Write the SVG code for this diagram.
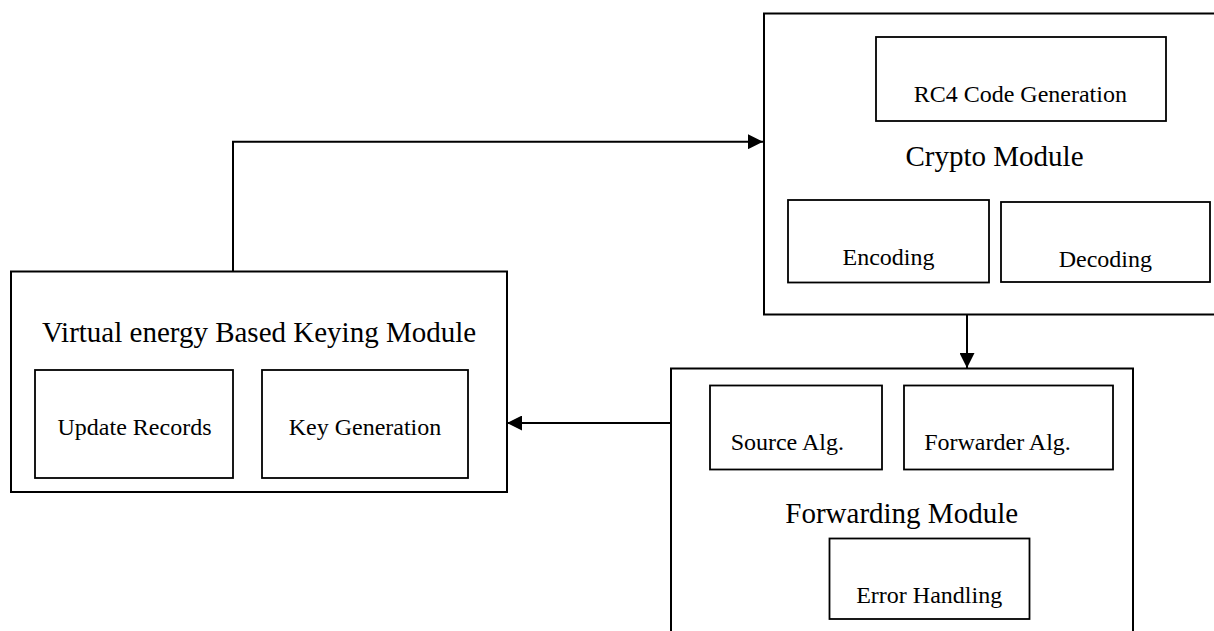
<svg xmlns="http://www.w3.org/2000/svg" width="1214" height="631" viewBox="0 0 1214 631">
<style>
.box{fill:none;stroke:#000;stroke-width:2}
.sub{fill:none;stroke:#000;stroke-width:1.8}
.conn{fill:none;stroke:#000;stroke-width:2}
.t{font-family:"Liberation Serif","Times New Roman",serif;fill:#000;text-anchor:middle}
.big{font-size:29px}
.sm{font-size:24px}
</style>
<defs>
<marker id="arr" viewBox="0 0 15 15" refX="15" refY="7.5" markerWidth="15" markerHeight="15" markerUnits="userSpaceOnUse" orient="auto">
<path d="M0,0 L15,7.5 L0,15 z" fill="#000"/>
</marker>
</defs>
<rect width="1214" height="631" fill="#fff"/>
<g id="connectors">
<path class="conn" d="M233,271 V141.7 H763" marker-end="url(#arr)"/>
<path class="conn" d="M967,315 V368" marker-end="url(#arr)"/>
<path class="conn" d="M671,423 H507" marker-end="url(#arr)"/>
</g>
<g id="vebk">
<rect class="box" x="11" y="271.5" width="496" height="220.5"/>
<text class="t big" x="259" y="342">Virtual energy Based Keying Module</text>
</g>
<g id="update-records">
<rect class="sub" x="35" y="370" width="198" height="108"/>
<text class="t sm" x="134.5" y="435">Update Records</text>
</g>
<g id="key-generation">
<rect class="sub" x="262" y="370" width="206" height="108"/>
<text class="t sm" x="365" y="435">Key Generation</text>
</g>
<g id="crypto">
<rect class="box" x="764" y="13.5" width="460" height="301"/>
<text class="t big" x="994.5" y="165.7">Crypto Module</text>
</g>
<g id="rc4">
<rect class="sub" x="876" y="37" width="290" height="84"/>
<text class="t sm" x="1020.3" y="101.7">RC4 Code Generation</text>
</g>
<g id="encoding">
<rect class="sub" x="788" y="200" width="201" height="82.5"/>
<text class="t sm" x="888.5" y="265">Encoding</text>
</g>
<g id="decoding">
<rect class="sub" x="1001" y="202" width="209" height="80"/>
<text class="t sm" x="1105.3" y="266.7">Decoding</text>
</g>
<g id="forwarding">
<rect class="box" x="671" y="368.5" width="462" height="280"/>
<text class="t big" x="901.7" y="523.3">Forwarding Module</text>
</g>
<g id="source-alg">
<rect class="sub" x="710" y="385.5" width="172" height="84"/>
<text class="t sm" x="787.3" y="450">Source Alg.</text>
</g>
<g id="forwarder-alg">
<rect class="sub" x="904" y="385.5" width="209" height="84"/>
<text class="t sm" x="997.5" y="450">Forwarder Alg.</text>
</g>
<g id="error-handling">
<rect class="sub" x="829.5" y="538.5" width="200" height="80.5"/>
<text class="t sm" x="929.2" y="603.3">Error Handling</text>
</g>
</svg>
